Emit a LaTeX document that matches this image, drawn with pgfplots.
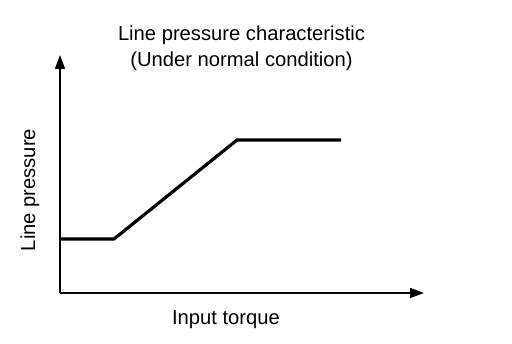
\documentclass[border=0pt]{standalone}
\usepackage{fontspec}
\setmainfont{Liberation Sans}
\usepackage{pgfplots}
\pgfplotsset{compat=1.18}
\usetikzlibrary{arrows.meta}
\begin{document}
\begin{tikzpicture}
\begin{axis}[
  scale only axis, width=182pt, height=119pt,
  xmin=0, xmax=364, ymin=0, ymax=238,
  axis lines=left,
  axis line style={line width=0.8pt, -{Triangle[length=7pt,width=5pt]}},
  xtick=\empty, ytick=\empty,
  clip=false,
]
\path (axis cs:-60,-51) rectangle (axis cs:452,293);
\addplot[black, line width=1.6pt, line join=round] coordinates {(0,54) (54,54) (177,153) (281,153)};
\node[font=\fontsize{10.1}{12}\selectfont] at (axis cs:181.5,258) {Line pressure characteristic};
\node[font=\fontsize{10.1}{12}\selectfont] at (axis cs:181.5,232) {(Under normal condition)};
\node[font=\fontsize{10.1}{12}\selectfont, rotate=90] at (axis cs:-30,103) {Line pressure};
\node[font=\fontsize{10.1}{12}\selectfont] at (axis cs:166,-27) {Input torque};
\end{axis}
\end{tikzpicture}
\end{document}
